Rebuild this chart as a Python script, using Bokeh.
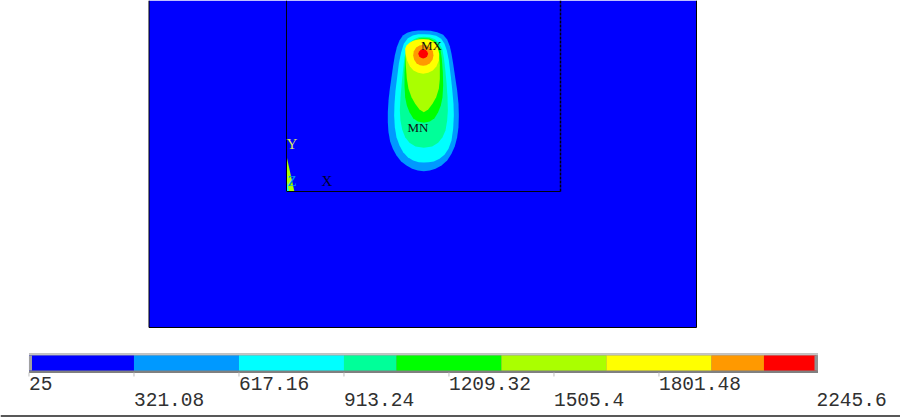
from bokeh.plotting import figure
from bokeh.embed import file_html
from bokeh.resources import INLINE
from bokeh.models import Range1d
from bokeh.core.properties import value

# Colour bar
band_edges = [25, 321.08, 617.16, 913.24, 1061.28, 1357.36, 1653.44, 1949.52, 2097.56, 2245.6]
band_colors = ["#0000ff", "#0099ff", "#00ffff", "#00ff99", "#00ff00", "#aaff00", "#ffff00", "#ff9900", "#ff0000"]
tick_values = [25, 321.08, 617.16, 913.24, 1209.32, 1505.4, 1801.48, 2245.6]
tick_labels = ["25", "321.08", "617.16", "913.24", "1209.32", "1505.4", "1801.48", "2245.6"]

# Temperature contours, picture coordinates of a 3x crop at (370, 15)
c1_x = [160,180,200,218,230,238,243,248,254,260,264,265,264,260,253,243,230,213,195,178,160,142,125,108,92,78,67,59,54,52,52,54,58,63,68,73,79,87,97,110,125,143]
c1_y = [45,46,50,58,72,92,115,145,185,225,265,300,335,365,392,415,435,450,460,465,467,465,460,450,438,420,400,378,350,320,290,255,220,185,150,120,95,75,60,52,47,45]
c2_x = [160,178,197,212,222,229,235,240,245,249,250,248,243,234,222,207,190,175,160,145,128,112,98,87,78,73,71,72,75,80,85,92,100,112,127,143]
c2_y = [56,57,61,70,85,105,135,175,220,265,300,340,375,400,418,430,438,440,441,440,435,425,410,390,365,335,300,265,225,185,145,110,85,68,60,56]
c3_x = [160,178,194,206,215,220,224,228,231,232,230,225,216,203,185,160,135,117,104,95,90,88,90,94,98,102,108,118,130,145]
c3_y = [64,65,71,84,100,125,160,200,245,285,315,345,365,382,393,397,393,382,365,342,315,285,245,200,160,125,100,82,71,65]
c4_x = [160,177,192,203,210,214,217,218,216,211,203,192,178,160,142,128,117,109,104,102,102,104,110,120,133,146]
c4_y = [68,69,76,87,102,130,170,210,245,270,290,308,318,322,318,308,290,270,245,210,170,130,102,85,75,69]
c5_x = [160,176,190,200,206,208,208,205,197,186,173,160,147,134,123,114,109,106,105,107,113,122,134,147]
c5_y = [71,72,79,92,115,150,190,220,245,265,282,290,282,265,245,220,190,150,120,100,88,80,75,72]
c6_x = [158,175,190,200,206,205,198,187,173,158,143,129,118,110,105,104,108,117,128,142]
c6_y = [71,73,80,92,115,135,152,165,172,175,172,165,152,135,115,100,90,82,76,72]
c7_x = [158,170,180,187,189,186,178,168,158,148,138,131,128,130,137,147]
c7_y = [88,90,96,107,120,133,143,149,151,149,143,133,120,107,96,90]
c8_x = [158,165,170,173,170,165,158,151,146,143,146,151]
c8_y = [101,103,108,115,122,127,129,127,122,115,108,103]
contour_x = [c1_x, c2_x, c3_x, c4_x, c5_x, c6_x, c7_x, c8_x]
contour_y = [c1_y, c2_y, c3_y, c4_y, c5_y, c6_y, c7_y, c8_y]
contour_colors = ["#0099ff", "#00ffff", "#00ff99", "#00ff00", "#aaff00", "#ffff00", "#ff9900", "#ff0000"]

# Model
plate_x = [148.5, 696]
plate_y = [0, 327]
box_x = [286, 286, 560, 560]
box_y = [0, 191, 191, 0]
wedge_x = [285.5, 285.5, 294]
wedge_y = [153, 191.5, 191.5]
wedge2_x = [285.5, 285.5, 288.5]
wedge2_y = [176, 191.5, 191.5]
note_text = ["MX", "MN", "Y", "Z", "X"]
note_x = [431, 417.5, 291.5, 291.5, 326.5]
note_y = [44.5, 126.5, 143.5, 180, 180]
note_sizes = ["13px", "13px", "15px", "15px", "15px"]
note_colors = ["#101010", "#101010", "#d8e860", "#0090f0", "#000030"]

p = figure(width=900, height=417, x_range=(0, 900), y_range=(417, 0),
           x_axis_location=None, y_axis_location=None, toolbar_location=None,
           output_backend="svg", min_border=0, outline_line_color=None,
           background_fill_color="white", border_fill_color="white",
           styles={"position": "absolute", "left": "0px", "top": "0px"})
p.grid.visible = False
p.extra_x_ranges = {"temp": Range1d(-55.3, 2482.6)}

# plate: filled, with its outline on three sides only
p.quad(left=[plate_x[0]], right=[plate_x[1]], top=[plate_y[0]], bottom=[plate_y[1]],
       fill_color="#0000ff", line_color=None)
p.line([plate_x[0], plate_x[0], plate_x[1], plate_x[1]],
       [plate_y[0], plate_y[1], plate_y[1], plate_y[0]], line_color="#000000", line_width=1)

# contours
for cx, cy, col in zip(contour_x, contour_y, contour_colors):
    p.patch([370 + v / 3 for v in cx], [15 + v / 3 for v in cy], fill_color=col, line_color=None)

p.patch(wedge_x, wedge_y, fill_color="#aaff00", line_color=None)
p.patch(wedge2_x, wedge2_y, fill_color="#00ffff", line_color=None)
p.line(box_x[:3], box_y[:3], line_color="#000010", line_width=1)
p.line(box_x[2:], box_y[2:], line_color="#000010", line_width=1.5, line_dash="3 1")

for i in range(len(note_text)):
    p.text([note_x[i]], [note_y[i]], text=[note_text[i]], text_color=note_colors[i],
           text_font=value("Liberation Serif"), text_font_size=note_sizes[i],
           text_align="center", text_baseline="middle")

# colour bar
p.quad(left=[28.5], right=[817.5], top=[353], bottom=[372.5], fill_color="#808080", line_color=None)
p.quad(left=[28.5], right=[817.5], top=[353], bottom=[355], fill_color="#c4c4c4", line_color=None)
p.quad(left=band_edges[:-1], right=band_edges[1:], top=[355] * 9, bottom=[370] * 9,
       fill_color=band_colors, line_color=None, x_range_name="temp")
p.quad(left=[28.5], right=[31.5], top=[355], bottom=[370], fill_color="#a0a0a0", line_color=None)
p.quad(left=[814], right=[817.5], top=[355], bottom=[370], fill_color="#909090", line_color=None)
p.segment(x0=tick_values[:-1], x1=tick_values[:-1], y0=[372] * 7, y1=[376] * 7,
          line_color="#c0c0c0", line_width=1, x_range_name="temp")
p.text(tick_values, [383, 398.5, 383, 398.5, 383, 398.5, 383, 398.5], text=tick_labels,
       text_color="#303030", text_font=value("Liberation Mono"), text_font_size="19.5px",
       text_align="left", text_baseline="middle", x_range_name="temp")
p.segment(x0=[0], x1=[900], y0=[415.5], y1=[415.5], line_color="#202020", line_width=1.5)

open("out.html", "w").write(file_html(p, INLINE))
